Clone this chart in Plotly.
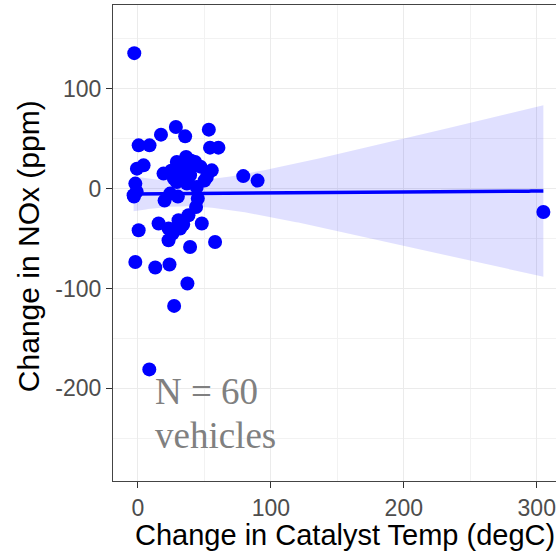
import numpy as np
import plotly.graph_objects as go

# Data (change in catalyst temp degC, change in NOx ppm)
temp_change = [-2.8, 28.5, 17.3, 35.5, 53.3, 0.5, 8.7, 54.2, 60.5, 36.2,
               29.2, 43.0, -0.8, 4.2, 19.2, 33.0, 39.2, 55.5, 51.8, 79.2,
               90.0, -2.0, -3.3, 24.2, 29.2, 36.8, 44.2, 43.7, 38.0, 30.5,
               15.5, 0.5, 23.0, 31.7, 48.0, 23.0, 39.2, 58.0, -2.0, 13.0,
               23.7, 37.2, 27.2, 8.5, 305.0, -3.0, -1.0, 32.0, 40.0, 27.0,
               35.0, 47.0, 30.0, 26.0, 34.0, 40.0, 25.0, 45.0, 20.0, 50.0]
nox_change = [135.6, 61.6, 54.0, 52.3, 59.0, 43.3, 43.3, 41.0, 41.0, 31.6,
              26.6, 26.6, 20.0, 23.3, 15.0, 18.3, 13.3, 18.3, 11.6, 12.5,
              8.0, 5.0, -6.7, -5.0, 6.6, 5.0, 1.6, -18.4, -26.7, -31.7,
              -35.0, -41.7, -40.0, -40.0, -35.0, -51.7, -58.4, -53.4, -73.4, -79.0,
              -76.0, -95.0, -117.4, -181.0, -23.4, -8.0, -3.0, 22.0, 22.0, 10.0,
              8.0, 22.0, -8.0, -45.0, -36.0, 28.0, 18.0, -10.0, -12.0, 8.0]

x_ticks = [0, 100, 200, 300]
y_ticks = [-200, -100, 0, 100]
note_line1 = "N = 60"
note_line2 = "vehicles"
x_title = "Change in Catalyst Temp (degC)"
y_title = "Change in NOx (ppm)"

# Linear model fit with 95% confidence band (like geom_smooth(method="lm"))
x = np.array(temp_change, dtype=float)
y = np.array(nox_change, dtype=float)
n = len(x)
b, a = np.polyfit(x, y, 1)
resid = y - (a + b * x)
s = np.sqrt(np.sum(resid ** 2) / (n - 2))
xbar = x.mean()
sxx = np.sum((x - xbar) ** 2)
t_crit = 2.0017  # t(0.975, df=58)
xs = np.linspace(x.min(), x.max(), 200)
fit = a + b * xs
se = s * np.sqrt(1.0 / n + (xs - xbar) ** 2 / sxx)
lo = fit - t_crit * se
hi = fit + t_crit * se

fig = go.Figure()
fig.add_trace(go.Scatter(
    x=np.concatenate([xs, xs[::-1]]), y=np.concatenate([hi, lo[::-1]]),
    fill="toself", fillcolor="rgba(0,0,255,0.12)", line=dict(width=0),
    mode="lines", hoverinfo="skip", showlegend=False))
fig.add_trace(go.Scatter(
    x=x, y=y, mode="markers",
    marker=dict(color="#0000ff", size=14, line=dict(width=0)),
    showlegend=False))
fig.add_trace(go.Scatter(
    x=xs, y=fit, mode="lines", line=dict(color="#0000ff", width=3.5),
    showlegend=False))

font_sans = "Liberation Sans, Arial, sans-serif"
font_serif = "Liberation Serif, Times New Roman, serif"

fig.update_layout(
    width=556, height=556,
    margin=dict(l=113, r=0, t=4.5, b=75),
    paper_bgcolor="white", plot_bgcolor="white",
    showlegend=False,
    xaxis=dict(range=[-18.8, 314.5], tickvals=x_ticks,
               ticktext=[str(v) for v in x_ticks],
               showgrid=True, gridcolor="#ebebeb", gridwidth=1.3,
               minor=dict(dtick=50, tick0=0, showgrid=True, gridcolor="#f2f2f2", gridwidth=0.8),
               zeroline=False, showline=True, mirror=True, linecolor="#444444", linewidth=1.2,
               ticks="outside", ticklen=6, tickwidth=1.3, tickcolor="#333333",
               tickfont=dict(family=font_sans, size=23, color="#4d4d4d")),
    yaxis=dict(range=[-292.7, 183.8], tickvals=y_ticks,
               ticktext=[str(v) for v in y_ticks],
               showgrid=True, gridcolor="#ebebeb", gridwidth=1.3,
               minor=dict(dtick=50, tick0=0, showgrid=True, gridcolor="#f2f2f2", gridwidth=0.8),
               zeroline=False, showline=True, mirror=False, linecolor="#444444", linewidth=1.2,
               ticks="outside", ticklen=6, tickwidth=1.3, tickcolor="#333333",
               tickfont=dict(family=font_sans, size=23, color="#4d4d4d")),
    annotations=[
        dict(text=x_title, xref="paper", yref="paper", x=0.524, y=-0.113,
             xanchor="center", yanchor="middle", showarrow=False,
             font=dict(family=font_sans, size=29, color="black")),
        dict(text=y_title, xref="paper", yref="paper", x=-0.189, y=0.494,
             xanchor="center", yanchor="middle", textangle=-90, showarrow=False,
             font=dict(family=font_sans, size=30, color="black")),
        dict(text=note_line1, xref="x", yref="y", x=11.5, y=-203,
             xanchor="left", yanchor="middle", showarrow=False,
             font=dict(family=font_serif, size=37, color="#808080")),
        dict(text=note_line2, xref="x", yref="y", x=11.5, y=-247,
             xanchor="left", yanchor="middle", showarrow=False,
             font=dict(family=font_serif, size=37, color="#808080")),
    ],
)

fig.write_html("out.html", config={"displayModeBar": False})

# remove the default page margin so the figure sits at the window's corner
with open("out.html", "r", encoding="utf-8") as fh:
    html = fh.read()
html = html.replace("<head>", "<head><style>html,body{margin:0;padding:0;overflow:hidden;}</style>", 1)
with open("out.html", "w", encoding="utf-8") as fh:
    fh.write(html)
